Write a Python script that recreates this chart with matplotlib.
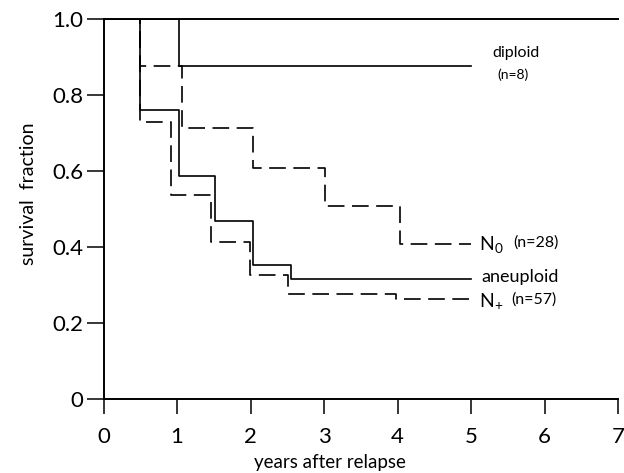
import matplotlib
matplotlib.use("Agg")
import matplotlib.pyplot as plt

plt.rcParams['font.family'] = ['Lato', 'DejaVu Sans']
plt.rcParams['mathtext.fontset'] = 'custom'
plt.rcParams['mathtext.rm'] = 'Lato'
plt.rcParams['mathtext.it'] = 'Lato'

# Kaplan-Meier step curves: event times (years) and survival fractions
diploid_t = [0.0, 1.03, 5.0]
diploid_s = [1.0, 0.875, 0.875]

n0_t = [0.0, 0.5, 1.07, 2.03, 3.02, 4.03, 5.0]
n0_s = [1.0, 0.875, 0.713, 0.608, 0.507, 0.407, 0.407]

aneuploid_t = [0.0, 0.5, 1.03, 1.51, 2.03, 2.55, 5.0]
aneuploid_s = [1.0, 0.76, 0.586, 0.468, 0.351, 0.316, 0.316]

nplus_t = [0.0, 0.5, 0.92, 1.46, 1.99, 2.51, 3.98, 5.0]
nplus_s = [1.0, 0.729, 0.536, 0.412, 0.325, 0.277, 0.264, 0.264]

x_ticks = [0, 1, 2, 3, 4, 5, 6, 7]
y_ticks = [0, 0.2, 0.4, 0.6, 0.8, 1.0]
y_ticklabels = ['0', '0.2', '0.4', '0.6', '0.8', '1.0']

fig = plt.figure(figsize=(6.24, 4.73), dpi=100)
ax = fig.add_axes([0.1659, 0.1564, 0.8245, 0.8044])

dash = (0, (10, 4.5))
ax.step(diploid_t, diploid_s, where='post', color='black', lw=1.2)
ax.step(aneuploid_t, aneuploid_s, where='post', color='black', lw=1.2)
ax.step(n0_t, n0_s, where='post', color='black', lw=1.2, linestyle=dash)
ax.step(nplus_t, nplus_s, where='post', color='black', lw=1.2, linestyle=dash)

ax.set_xlim(0, 7)
ax.set_ylim(0, 1.0)
ax.set_xticks(x_ticks)
ax.set_xticklabels([str(v) for v in x_ticks])
ax.set_yticks(y_ticks)
ax.set_yticklabels(y_ticklabels)

for side in ['left', 'bottom', 'top']:
    ax.spines[side].set_linewidth(1.4)
ax.spines['right'].set_visible(False)
ax.tick_params(axis='y', direction='out', length=12.5, width=1.1, labelsize=16, pad=2)
ax.tick_params(axis='x', direction='out', length=10.5, width=1.1, labelsize=16, pad=10)

ax.set_xlabel('years after relapse', fontsize=13.5)
ax.xaxis.set_label_coords(0.44, -0.145)
ax.set_ylabel('survival  fraction', fontsize=14)
ax.yaxis.set_label_coords(-0.13, 0.54)

# curve labels
ax.text(5.61, 0.909, 'diploid', fontsize=11.5, ha='center', va='center')
ax.text(5.57, 0.852, '(n=8)', fontsize=10, ha='center', va='center')
ax.text(5.11, 0.405, r'N$_{0}$', fontsize=14, ha='left', va='center')
ax.text(5.58, 0.41, '(n=28)', fontsize=11.5, ha='left', va='center')
ax.text(5.14, 0.322, 'aneuploid', fontsize=13, ha='left', va='center')
ax.text(5.11, 0.258, r'N$_{+}$', fontsize=14, ha='left', va='center')
ax.text(5.55, 0.262, '(n=57)', fontsize=11.5, ha='left', va='center')

fig.savefig('out.png', dpi=100)
